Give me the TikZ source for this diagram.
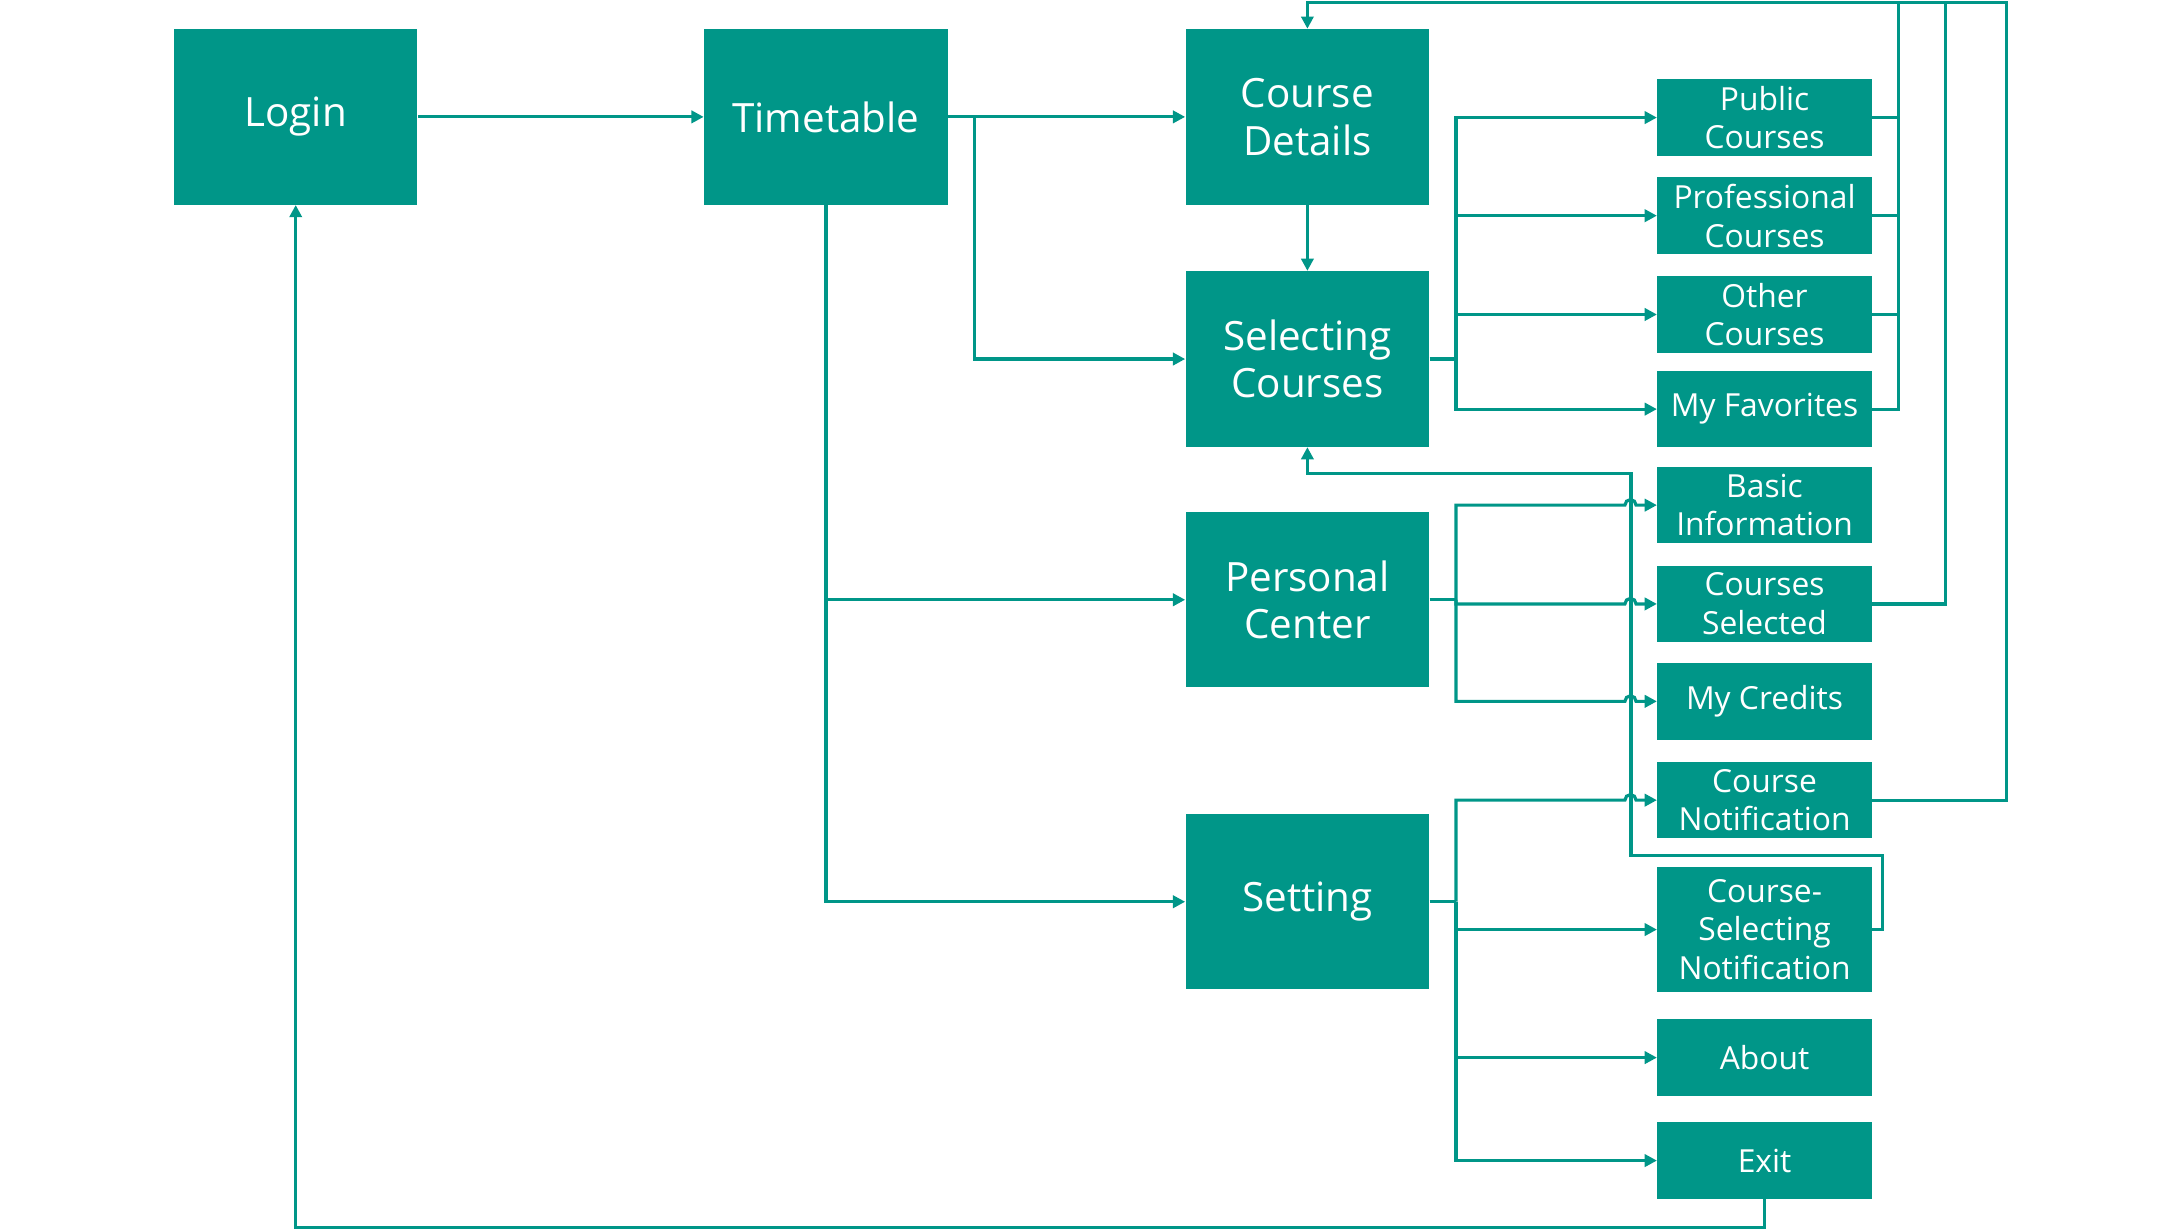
\documentclass[tikz,border=0pt]{standalone}
\usepackage{fontspec}
\setmainfont{Open Sans}
\usetikzlibrary{arrows.meta,calc,positioning}
\definecolor{tealbox}{RGB}{0,150,136}

\tikzset{
  bigbox/.style={fill=tealbox, text=white, minimum width=3.5cm, minimum height=2.52cm,
    inner sep=0pt, align=center, font=\fontsize{16.5}{19.5}\selectfont},
  smallbox/.style={fill=tealbox, text=white, minimum width=3.08cm, minimum height=1.1cm,
    inner sep=0pt, align=center, font=\fontsize{13}{15.8}\selectfont},
  link/.style={draw=tealbox, line width=1.3pt},
}

\begin{document}
\begin{tikzpicture}[x=0.02cm,y=-0.02cm,>={Triangle[length=5pt,width=5pt]}]
        \useasboundingbox (0,0) rectangle (1568,884);

        % main boxes
        \node[bigbox] (login) at (212.5,84) {Login};
        \node[bigbox] (tt) at (593.5,84) {Timetable};
        \node[bigbox] (cd) at (939.5,84) {Course\\Details};
        \node[bigbox] (sc) at (939.5,258) {Selecting\\Courses};
        \node[bigbox] (pc) at (939.5,431) {Personal\\Center};
        \node[bigbox] (st) at (939.5,648) {Setting};

        % sub pages
        \node[smallbox] (pub) at (1268,84.5) {Public\\Courses};
        \node[smallbox] (pro) at (1268,155) {Professional\\Courses};
        \node[smallbox] (oth) at (1268,226) {Other\\Courses};
        \node[smallbox] (fav) at (1268,294) {My Favorites};
        \node[smallbox] (bas) at (1268,363) {Basic\\Information};
        \node[smallbox] (sel) at (1268,434) {Courses\\Selected};
        \node[smallbox] (cre) at (1268,504) {My Credits};
        \node[smallbox] (cn) at (1268,575) {Course\\Notification};
        \node[smallbox, minimum height=1.8cm] (csn) at (1268,668) {Course-\\Selecting\\Notification};
        \node[smallbox] (abt) at (1268,760) {About};
        \node[smallbox] (ext) at (1268,834) {Exit};

        \coordinate (ttb) at (700,84);
        \coordinate (ret1) at (1364,2);
        \coordinate (ret2) at (1398,2);
        \coordinate (ret3) at (1442,2);
        \coordinate (loopa) at (1353,615);
        \coordinate (loopb) at (1172,340);
        \coordinate (bot) at (0,882);

        \draw[link,->] (login) -- (tt);
        \draw[link,->] (tt) -- (cd);
        \draw[link,->] (ttb) |- (sc.west);
        \draw[link,->] (tt.south) |- (st.west);
        \draw[link,->] (tt.south |- pc.west) -- (pc.west);
        \draw[link,->] (cd) -- (sc);

        % buses to the sub pages
        \draw[link] (sc.east) -- ++(19,0) coordinate (scb);
        \foreach \n in {pub,pro,oth,fav} {
          \draw[link,->] (scb) |- (\n.west);
        }
        \draw[link] (pc.east) -- ++(19,0) coordinate (pcb);
        \foreach \n in {bas,sel,cre} {
          \draw[link,->] (pcb) |- ($(\n.west)+(-23,0)$)
            arc[start angle=180, end angle=0, radius=0.08cm] -- (\n.west);
        }
        \draw[link] (st.east) -- ++(19,0) coordinate (stb);
        \draw[link,->] (stb) |- ($(cn.west)+(-23,0)$)
          arc[start angle=180, end angle=0, radius=0.08cm] -- (cn.west);
        \foreach \n in {csn,abt,ext} {
          \draw[link,->] (stb) |- (\n.west);
        }

        % back links
        \foreach \n in {pub,pro,oth} {
          \draw[link] (\n.east) -- (\n.east -| ret1);
        }
        \draw[link] (fav.east) -| (ret1);
        \draw[link] (sel.east) -| (ret2);
        \draw[link,->] (cn.east) -| (ret3) -| (cd.north);
        \draw[link,->] (csn.east) -| (loopa) -| (loopb) -| (sc.south);
        \draw[link,->] (ext.south) |- (login.south |- bot) -- (login.south);
\end{tikzpicture}
\end{document}
